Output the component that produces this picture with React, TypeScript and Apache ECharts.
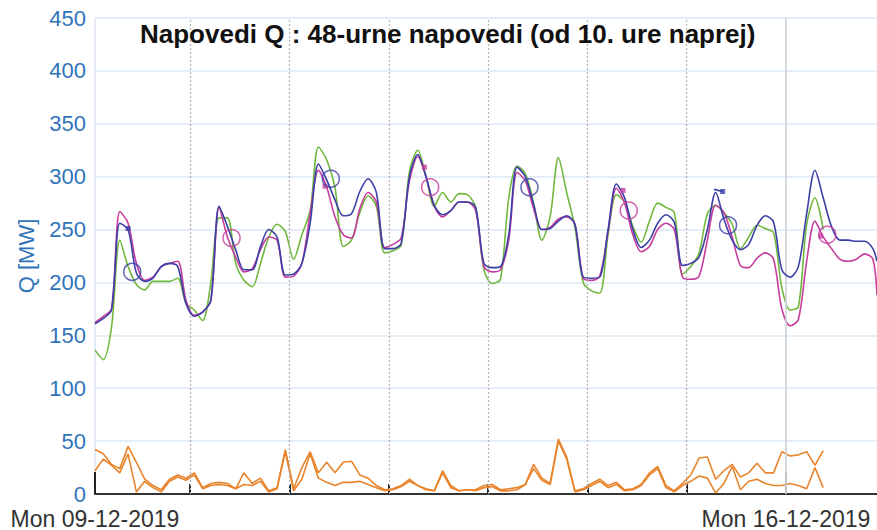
import React, { useEffect, useRef } from "react";
import * as echarts from "echarts";

const FONT = "Liberation Sans, Arial, sans-serif";

// hours counted from Mon 09-12-2019 00:00
const hours = [
  1, 3, 5, 7, 9, 11, 13, 15, 17, 19, 21, 23,
  25, 27, 29, 31, 33, 35, 37, 39, 41, 43, 45, 47,
  49, 51, 53, 55, 57, 59, 61, 63, 65, 67, 69, 71,
  73, 75, 77, 79, 81, 83, 85, 87, 89, 91, 93, 95,
  97, 99, 101, 103, 105, 107, 109, 111, 113, 115, 117, 119,
  121, 123, 125, 127, 129, 131, 133, 135, 137, 139, 141, 143,
  145, 147, 149, 151, 153, 155, 157, 159, 161, 163, 165, 167,
  169, 171, 173, 175, 177, 179, 181, 183, 185, 187, 189, 190,
];

const blueForecast = [
  161, 166, 174, 256, 250, 209, 201, 204, 215, 218, 215, 180,
  168, 172, 183, 272, 253, 231, 212, 212, 234, 250, 243, 207,
  208, 218, 256, 312, 297, 278, 263, 265, 286, 298, 285, 232,
  232, 237, 300, 321, 300, 273, 264, 268, 276, 276, 271, 218,
  214, 215, 245, 309, 300, 274, 250, 251, 258, 263, 255, 205,
  204, 205, 250, 293, 280, 250, 233, 240, 256, 264, 257, 216,
  218, 224, 250, 285, 260, 240, 231, 236, 254, 263, 257, 212,
  205, 215, 265, 306, 280, 253, 240, 240, 239, 239, 232, 220,
];

const magentaForecast = [
  162, 168, 175, 267, 256, 218, 202, 205, 215, 218, 220, 183,
  169, 172, 183, 271, 243, 224, 210, 213, 231, 243, 240, 205,
  206, 218, 265, 306, 290, 262, 245, 242, 270, 285, 276, 233,
  236, 242, 296, 319, 300, 272, 262, 268, 276, 276, 268, 215,
  210, 212, 240, 304, 296, 270, 250, 252, 260, 262, 255, 204,
  202, 206, 248, 289, 275, 245, 229, 234, 250, 256, 250, 205,
  203, 206, 240, 273, 266, 243, 216, 214, 223, 228, 222, 175,
  159, 165, 220, 258, 243, 232, 222, 220, 222, 227, 222, 188,
];

const greenMeasured = [
  136, 127, 158, 240, 215, 198, 193, 201, 201, 201, 204, 180,
  174, 164, 200, 261, 261, 218, 202, 196, 218, 243, 255, 248,
  222, 245, 268, 328, 316, 290, 234, 240, 266, 282, 272, 228,
  230, 235, 305, 325, 300, 272, 285, 276, 284, 283, 271, 212,
  199, 203, 280, 310, 303, 275, 240, 262, 318, 285, 252, 200,
  192, 190, 245, 283, 276, 253, 238, 258, 275, 271, 266, 208,
  215, 228, 265, 273, 266, 255, 232, 243, 254, 251, 247, 195,
  174, 177, 255, 280, 250, null, null, null, null, null, null, null,
];

const errorA = [
  42, 38, 28, 24, 45, 30, 14, 8, 4, 14, 18, 15,
  20, 6, 10, 11, 10, 5, 20, 10, 15, 3, 6, 42,
  5, 25, 40, 20, 30, 20, 30, 31, 18, 15, 8, 4,
  5, 8, 14, 8, 5, 3, 22, 8, 3, 4, 4, 8,
  9, 4, 5, 6, 9, 28, 15, 10, 52, 35, 3, 5,
  10, 14, 8, 11, 4, 5, 9, 20, 26, 8, 3, 10,
  18, 34, 35, 14, 22, 28, 16, 20, 29, 20, 20, 40,
  36, 37, 40, 27, 41, null, null, null, null, null, null, null,
];

const errorB = [
  22, 33, 27, 20, 38, 2, 12, 6, 2, 12, 16, 13,
  18, 5, 8, 9, 8, 5, 9, 8, 12, 2, 5, 40,
  3, 14, 38, 15, 11, 8, 11, 11, 12, 9, 6, 3,
  4, 7, 12, 8, 4, 3, 20, 6, 3, 4, 3, 6,
  7, 3, 3, 4, 9, 24, 13, 9, 50, 33, 2, 4,
  8, 12, 6, 9, 3, 4, 8, 18, 24, 6, 2, 8,
  12, 17, 15, 1, 10, 26, 4, 12, 14, 10, 8, 8,
  10, 8, 5, 25, 6, null, null, null, null, null, null, null,
];

// forecast start markers (10:00 each day)
const blueCircleHours = [10, 58, 106, 154];
const blueCircleValues = [210, 298, 290, 254];
const magentaCircleHours = [34, 82, 130, 178];
const magentaCircleValues = [242, 290, 268, 245];

const blueSquareHours = [9, 152.7];
const blueSquareValues = [251, 286];
const magentaSquareHours = [56.6, 80.6, 128.6, 176.4];
const magentaSquareValues = [291, 309, 287, 244];

const blueHookHours = [150.6, 152.7];
const blueHookValues = [288, 286];

const dayLineHours = [24, 48, 72, 96, 120, 144];
const weekLineHour = 168;

const xLabelHours = [1, 168];
const xLabelTexts = ["Mon 09-12-2019", "Mon 16-12-2019"];

const BLUE = "#3b3fa6";
const MAGENTA = "#c63d9d";
const GREEN = "#72b83f";
const ORANGE = "#e8842c";
const AXIS_BLUE = "#2f74b9";

function pairs(xs: number[], ys: (number | null)[]) {
  return xs.map((x, i) => [x, ys[i]]);
}

export default function App() {
  const ref = useRef<HTMLDivElement>(null);

  useEffect(() => {
    document.body.style.margin = "0";
    const chart = echarts.init(ref.current!, null, { renderer: "svg" });

    const lineSeries = (
      name: string,
      vals: (number | null)[],
      color: string,
      z: number,
      smooth: number
    ) => ({
      name,
      type: "line",
      data: pairs(hours, vals),
      showSymbol: false,
      symbol: "none",
      smooth,
      connectNulls: false,
      lineStyle: { color, width: 1.6 },
      z,
      silent: true,
    });

    chart.setOption({
      animation: false,
      title: {
        text: "Napovedi Q : 48-urne napovedi (od 10. ure naprej)",
        left: 135,
        top: 16,
        textStyle: { fontFamily: FONT, fontSize: 26, fontWeight: "bold", color: "#111" },
      },
      grid: { left: 95, right: 0, top: 18, bottom: 35, containLabel: false },
      xAxis: [
        {
          type: "value",
          min: 1,
          max: 190,
          position: "bottom",
          axisLine: { show: true, onZero: false, lineStyle: { color: "#333", width: 2 } },
          axisTick: {
            show: true,
            inside: true,
            length: 10,
            customValues: dayLineHours,
            lineStyle: { color: "#222", width: 2 },
          },
          axisLabel: {
            show: true,
            customValues: xLabelHours,
            formatter: (v: number) => {
              const i = xLabelHours.indexOf(v);
              return i >= 0 ? xLabelTexts[i] : "";
            },
            color: "#333",
            fontFamily: FONT,
            fontSize: 23,
            margin: 13,
          },
          splitLine: { show: false },
        },
        {
          type: "value",
          min: 1,
          max: 190,
          position: "bottom",
          axisLine: { show: false, onZero: false },
          axisTick: {
            show: true,
            inside: true,
            length: 22,
            customValues: xLabelHours,
            lineStyle: { color: "#222", width: 2 },
          },
          axisLabel: { show: false },
          splitLine: { show: false },
        },
      ],
      yAxis: {
        type: "value",
        min: 0,
        max: 450,
        interval: 50,
        name: "Q [MW]",
        nameLocation: "middle",
        nameGap: 58,
        nameTextStyle: { color: AXIS_BLUE, fontFamily: FONT, fontSize: 22 },
        axisLine: { show: true, lineStyle: { color: "#dde6f0", width: 1.5 } },
        axisTick: { show: false },
        axisLabel: { color: AXIS_BLUE, fontFamily: FONT, fontSize: 22, margin: 9 },
        splitLine: { show: true, lineStyle: { color: "#dce7f3", width: 1.5 } },
      },
      series: [
        {
          ...lineSeries("Napaka A", errorA, ORANGE, 2, 0),
          markLine: {
            silent: true,
            symbol: ["none", "none"],
            label: { show: false },
            data: [
              ...dayLineHours.map((h) => ({
                xAxis: h,
                lineStyle: { color: "#b4b4b4", width: 1.2, type: [2, 2] },
              })),
              { xAxis: weekLineHour, lineStyle: { color: "#cfd5dc", width: 1.8, type: "solid" } },
            ],
          },
        },
        lineSeries("Napaka B", errorB, ORANGE, 2, 0),
        lineSeries("Meritev", greenMeasured, GREEN, 3, 0.3),
        lineSeries("Napoved M", magentaForecast, MAGENTA, 4, 0.3),
        lineSeries("Napoved B", blueForecast, BLUE, 5, 0.3),
        {
          type: "line",
          data: pairs(blueHookHours, blueHookValues),
          symbol: "none",
          lineStyle: { color: BLUE, width: 1.6 },
          z: 5,
          silent: true,
        },
        {
          type: "scatter",
          data: pairs(blueSquareHours, blueSquareValues),
          symbol: "rect",
          symbolSize: 5,
          itemStyle: { color: BLUE },
          z: 6,
          silent: true,
        },
        {
          type: "scatter",
          data: pairs(magentaSquareHours, magentaSquareValues),
          symbol: "rect",
          symbolSize: 5,
          itemStyle: { color: MAGENTA },
          z: 6,
          silent: true,
        },
        {
          type: "scatter",
          data: pairs(blueCircleHours, blueCircleValues),
          symbol: "circle",
          symbolSize: 17,
          itemStyle: { color: "rgba(0,0,0,0)", borderColor: BLUE, borderWidth: 1.5 },
          z: 6,
          silent: true,
        },
        {
          type: "scatter",
          data: pairs(magentaCircleHours, magentaCircleValues),
          symbol: "circle",
          symbolSize: 17,
          itemStyle: { color: "rgba(0,0,0,0)", borderColor: MAGENTA, borderWidth: 1.5 },
          z: 6,
          silent: true,
        },
      ],
    });

    return () => chart.dispose();
  }, []);

  return <div ref={ref} style={{ width: 877, height: 530 }} />;
}
